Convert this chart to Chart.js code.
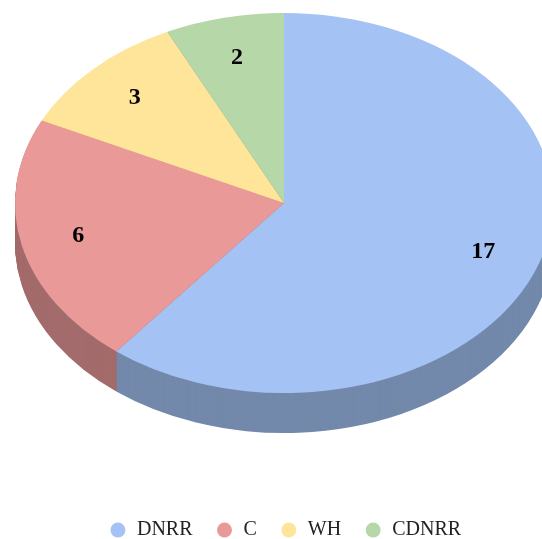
<!DOCTYPE html>
<html>
<head>
<meta charset="utf-8">
<script src="https://cdn.jsdelivr.net/npm/chart.js@4/dist/chart.umd.min.js"></script>
<style>
    html, body { margin: 0; padding: 0; background: #fff; }
    #wrap { width: 542px; height: 539px; position: relative; }
</style>
</head>
<body>
<div id="wrap"><canvas id="pieChart"></canvas></div>
<script>
const categories = ['DNRR', 'C', 'WH', 'CDNRR'];
const counts = [17, 6, 3, 2];
const faceColors = ['#a4c2f4', '#ea9999', '#ffe599', '#b6d7a8'];
const sideColors = ['#7389ab', '#a36b6b', '#b3a06b', '#7f9776'];

// where the tilted pie sits on the page
const CENTER_X = 284;
const CENTER_Y = 203;
const RADIUS_X = 269;
const RADIUS_Y = 190;
const DEPTH = 40;
const LABEL_POS = 0.785;

function tiltTo(ctx, arc, dy) {
    ctx.translate(CENTER_X, CENTER_Y + dy);
    ctx.scale(RADIUS_X / arc.outerRadius, RADIUS_Y / arc.outerRadius);
    ctx.translate(-arc.x, -arc.y);
}

const tiltedPie = {
    id: 'tiltedPie',
    beforeDatasetsDraw(chart) {
        const ctx = chart.ctx;
        const arcs = chart.getDatasetMeta(0).data;

        // side wall: darker copies stacked downward
        for (let d = DEPTH; d > 0; d--) {
            arcs.forEach((arc, i) => {
                ctx.save();
                tiltTo(ctx, arc, d);
                const fill = arc.options.backgroundColor;
                arc.options.backgroundColor = sideColors[i];
                arc.draw(ctx);
                arc.options.backgroundColor = fill;
                ctx.restore();
            });
        }

        // top face
        arcs.forEach((arc) => {
            ctx.save();
            tiltTo(ctx, arc, 0);
            arc.draw(ctx);
            ctx.restore();
        });

        // value labels
        ctx.save();
        ctx.font = 'bold 24px "Liberation Serif", "Times New Roman", serif';
        ctx.fillStyle = '#000';
        ctx.textAlign = 'center';
        ctx.textBaseline = 'middle';
        arcs.forEach((arc, i) => {
            const mid = (arc.startAngle + arc.endAngle) / 2;
            const x = CENTER_X + Math.cos(mid) * RADIUS_X * LABEL_POS;
            const y = CENTER_Y + Math.sin(mid) * RADIUS_Y * LABEL_POS;
            ctx.fillText(String(counts[i]), x, y);
        });
        ctx.restore();

        return false;
    }
};

const ctx = document.getElementById('pieChart').getContext('2d');
const pieChart = new Chart(ctx, {
    type: 'pie',
    data: {
        labels: categories,
        datasets: [{
            data: counts,
            backgroundColor: faceColors,
            borderWidth: 0,
        }],
    },
    options: {
        responsive: true,
        maintainAspectRatio: false,
        animation: false,
        events: [],
        layout: {
            padding: { left: 28, right: 0, top: 0, bottom: -11 }
        },
        plugins: {
            tooltip: { enabled: false },
            legend: {
                position: 'bottom',
                labels: {
                    usePointStyle: true,
                    pointStyle: 'circle',
                    boxWidth: 18,
                    boxHeight: 10.6,
                    padding: 23,
                    color: '#222',
                    font: { family: '"Liberation Serif", "Times New Roman", serif', size: 20 },
                },
            },
        },
    },
    plugins: [tiltedPie],
});
</script>
</body>
</html>
